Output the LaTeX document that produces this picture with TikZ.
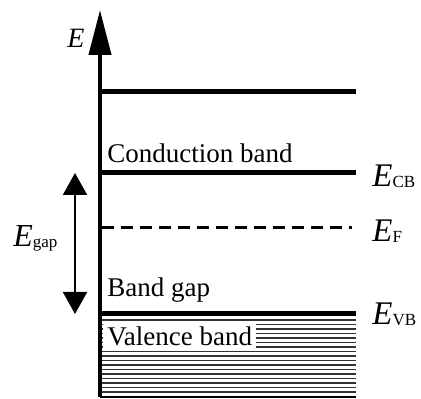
\documentclass[tikz,border=0pt]{standalone}
\usepackage{fontspec}
\setmainfont{Liberation Serif}
\usetikzlibrary{arrows.meta,positioning}
\newcommand{\lvl}[1]{\textit{E}\raisebox{-0.5pt}{\fontsize{8.5}{9}\selectfont #1}}

\begin{document}
\begin{tikzpicture}[
  x=0.5pt, y=-0.5pt,
  level/.style={line width=2.5pt},
  fermi/.style={line width=1.5pt, dash pattern=on 6pt off 3.5pt},
  hatch/.style={line width=0.6pt, black!80},
  txt/.style={font=\fontsize{13.5}{16}\selectfont, inner sep=0pt, anchor=base west},
  elabel/.style={font=\fontsize{16.5}{18}\selectfont, inner sep=0pt, anchor=base west},
  axis/.style={line width=2pt, -{Triangle[length=22.5pt,width=11pt]}},
  gaparrow/.style={line width=1pt, {Triangle[length=11pt,width=12pt]}-{Triangle[length=11pt,width=12pt]}}
]
\useasboundingbox (0,0) rectangle (421,399);

% Energy axis
\coordinate (o)   at (100,397);
\coordinate (top) at (100,10);
\draw[axis] (o) -- (top);
\node[elabel, font=\fontsize{14}{16}\selectfont] (e) at (67,48) {\textit{E}};

% Valence band filling
\foreach \k in {0,...,16}
  \draw[hatch] (102,320+4.5*\k) -- (356,320+4.5*\k);
\coordinate (bl) at (100,397);
\coordinate (br) at (356,397);
\draw[line width=1pt] (bl) -- (br);

% Levels
\coordinate (hl)  at (100,92);  \coordinate (hr)  at (356,92);
\coordinate (cbl) at (100,173); \coordinate (cbr) at (356,173);
\coordinate (efl) at (102,228); \coordinate (efr) at (352,228);
\coordinate (vbl) at (100,314); \coordinate (vbr) at (356,314);
\draw[level] (hl)  -- (hr);
\draw[level] (cbl) -- (cbr);
\draw[fermi] (efl) -- (efr);
\draw[level] (vbl) -- (vbr);

% Band labels
\node[txt] (cond) at (107,163) {Conduction band};
\node[txt] (bgap) at (107,297) {Band gap};
\node[txt, fill=white, inner xsep=2pt, inner ysep=2.5pt] (val) at (103,345) {Valence band};

% Level labels
\node[elabel] (ecb) at (372,187) {\lvl{CB}};
\node[elabel] (ef)  at (372,242) {\lvl{F}};
\node[elabel] (evb) at (372,325) {\lvl{VB}};

% Gap arrow
\coordinate (gt) at (75,173);
\coordinate (gb) at (75,314);
\draw[gaparrow] (gt) -- (gb);
\node[elabel, font=\fontsize{16}{18}\selectfont] (egap) at (13,247) {\lvl{gap}};
\end{tikzpicture}
\end{document}
